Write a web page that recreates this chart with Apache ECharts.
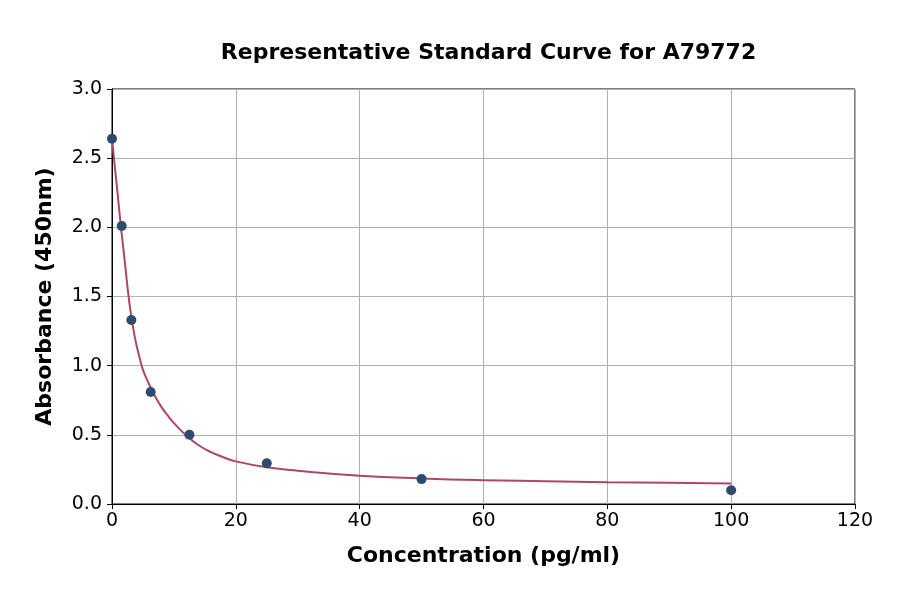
<!DOCTYPE html>
<html>
<head>
<meta charset="utf-8">
<script src="https://cdn.jsdelivr.net/npm/echarts@6/dist/echarts.min.js"></script>
<style>
html,body{margin:0;padding:0;background:#fff;}
#chart{width:900px;height:594px;}
</style>
</head>
<body>
<div id="chart"></div>
<script>
// Measured standards
const concentrations = [0, 1.5625, 3.125, 6.25, 12.5, 25, 50, 100];
const absorbances = [2.64, 2.01, 1.33, 0.81, 0.50, 0.295, 0.18, 0.10];

// Fitted curve
const curveX = [0, 0.5, 1, 1.5, 2, 2.5, 3, 3.5, 4, 4.5, 5, 6, 7, 8, 9, 10, 12, 14, 16, 18, 20, 25, 30, 40, 50, 60, 70, 80, 90, 100];
const curveY = [2.64, 2.42, 2.20, 1.98, 1.78, 1.57, 1.39, 1.25, 1.14, 1.05, 0.97, 0.865, 0.775, 0.70, 0.64, 0.585, 0.495, 0.425, 0.375, 0.338, 0.308, 0.265, 0.24, 0.205, 0.185, 0.172, 0.165, 0.158, 0.153, 0.148];

const xTicks = [0, 20, 40, 60, 80, 100, 120];
const yTicks = [0.0, 0.5, 1.0, 1.5, 2.0, 2.5, 3.0];

const chart = echarts.init(document.getElementById('chart'));
const font = 'DejaVu Sans';
chart.setOption({
  animation: false,
  backgroundColor: '#ffffff',
  title: {
    text: 'Representative Standard Curve for A79772',
    left: 483.5,
    top: 37,
    textAlign: 'center',
    textStyle: {fontFamily: font, fontWeight: 'bold', fontSize: 22, color: '#000'}
  },
  grid: {
    left: 112, right: 45, top: 89, bottom: 90,
    show: true, borderColor: '#000', borderWidth: 1, backgroundColor: 'transparent'
  },
  xAxis: {
    type: 'value',
    min: xTicks[0], max: xTicks[xTicks.length - 1], interval: 20,
    name: 'Concentration (pg/ml)',
    nameLocation: 'middle', nameGap: 41,
    nameTextStyle: {fontFamily: font, fontWeight: 'bold', fontSize: 22, color: '#000'},
    axisLine: {show: true, lineStyle: {color: '#000', width: 1}},
    axisTick: {show: true, length: 5, lineStyle: {color: '#000'}},
    axisLabel: {fontFamily: font, fontSize: 19, color: '#000', margin: 8},
    splitLine: {show: true, lineStyle: {color: '#b0b0b0', width: 1}}
  },
  yAxis: {
    type: 'value',
    min: yTicks[0], max: yTicks[yTicks.length - 1], interval: 0.5,
    name: 'Absorbance (450nm)',
    nameLocation: 'middle', nameGap: 56,
    nameTextStyle: {fontFamily: font, fontWeight: 'bold', fontSize: 22, color: '#000'},
    axisLine: {show: true, lineStyle: {color: '#000', width: 1}},
    axisTick: {show: true, length: 5, lineStyle: {color: '#000'}},
    axisLabel: {fontFamily: font, fontSize: 19, color: '#000', margin: 10,
      formatter: v => v.toFixed(1)},
    splitLine: {show: true, lineStyle: {color: '#b0b0b0', width: 1}}
  },
  series: [
    {
      type: 'line',
      data: curveX.map((x, i) => [x, curveY[i]]),
      smooth: 0.5,
      showSymbol: false,
      symbol: 'none',
      lineStyle: {color: '#b0456a', width: 2},
      z: 2
    },
    {
      type: 'scatter',
      data: concentrations.map((x, i) => [x, absorbances[i]]),
      symbolSize: 10,
      itemStyle: {color: '#2e4b6e', opacity: 1},
      z: 3
    }
  ]
});
</script>
</body>
</html>
